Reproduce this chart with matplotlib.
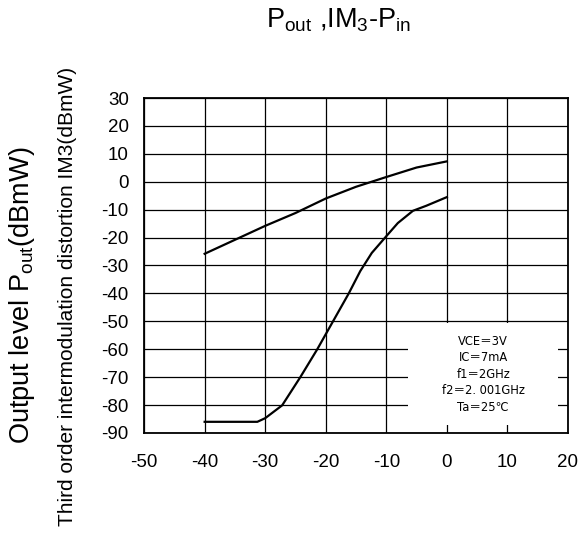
import matplotlib
matplotlib.use("Agg")
import matplotlib.pyplot as plt
from matplotlib.patches import Rectangle

plt.rcParams['font.family'] = ['Liberation Sans', 'DejaVu Sans']
plt.rcParams['mathtext.default'] = 'regular'
plt.rcParams['axes.unicode_minus'] = False

# data
pin_out = [-40, -35, -30, -25, -20, -15, -10, -5, 0]
pout = [-25.8, -20.8, -15.8, -11.2, -6.0, -1.8, 1.7, 5.1, 7.3]

pin_im3 = [-40, -31.3, -30, -27.2, -24.2, -21.4, -18.8, -16.2, -14.3, -12.4, -10, -8.1, -5.6, -3.4, 0]
im3 = [-86, -86, -84.7, -80.1, -70, -60, -50, -40, -32, -25.5, -19.5, -14.8, -10.4, -8.6, -5.5]

x_ticks = list(range(-50, 21, 10))
y_ticks = list(range(-90, 31, 10))
conditions = ["VCE＝3V", "IC＝7mA", "f1＝2GHz", "f2＝2. 001GHz", "Ta＝25℃"]

fig = plt.figure(figsize=(5.81, 5.35), dpi=100)
ax = fig.add_axes([0.248, 0.1907, 0.7296, 0.6261])

ax.plot(pin_out, pout, color="black", lw=1.6, zorder=4)
ax.plot(pin_im3, im3, color="black", lw=1.6, zorder=4)

ax.set_xlim(-50, 20)
ax.set_ylim(-90, 30)
ax.set_xticks(x_ticks)
ax.set_yticks(y_ticks)
ax.tick_params(length=0, labelsize=13.5)
ax.tick_params(axis="x", pad=15)
ax.tick_params(axis="y", pad=11)
ax.grid(True, color="black", lw=0.9)
ax.set_axisbelow(True)
for s in ax.spines.values():
    s.set_linewidth(1.3)

# condition box (white patch hides the grid behind it)
ax.add_patch(Rectangle((0.623, 0.024), 0.353, 0.304, transform=ax.transAxes,
                       facecolor="white", edgecolor="none", zorder=2))
ax.text(0.80, 0.176, "\n".join(conditions), transform=ax.transAxes,
        ha="center", va="center", fontsize=8.3, linespacing=1.35,
        family=['DejaVu Sans', 'Noto Sans CJK JP'], zorder=3)

fig.text(0.5835, 0.9477, r"$P_{out}$ ,$IM_{3}$-$P_{in}$", ha="center", va="baseline", fontsize=19.5)
fig.text(0.038, 0.449, r"Output level $P_{out}$(dBmW)", rotation=90,
         ha="center", va="center", fontsize=19.5)
fig.text(0.116, 0.446, "Third order intermodulation distortion IM3(dBmW)", rotation=90,
         ha="center", va="center", fontsize=15)

fig.savefig("out.png", dpi=100)
